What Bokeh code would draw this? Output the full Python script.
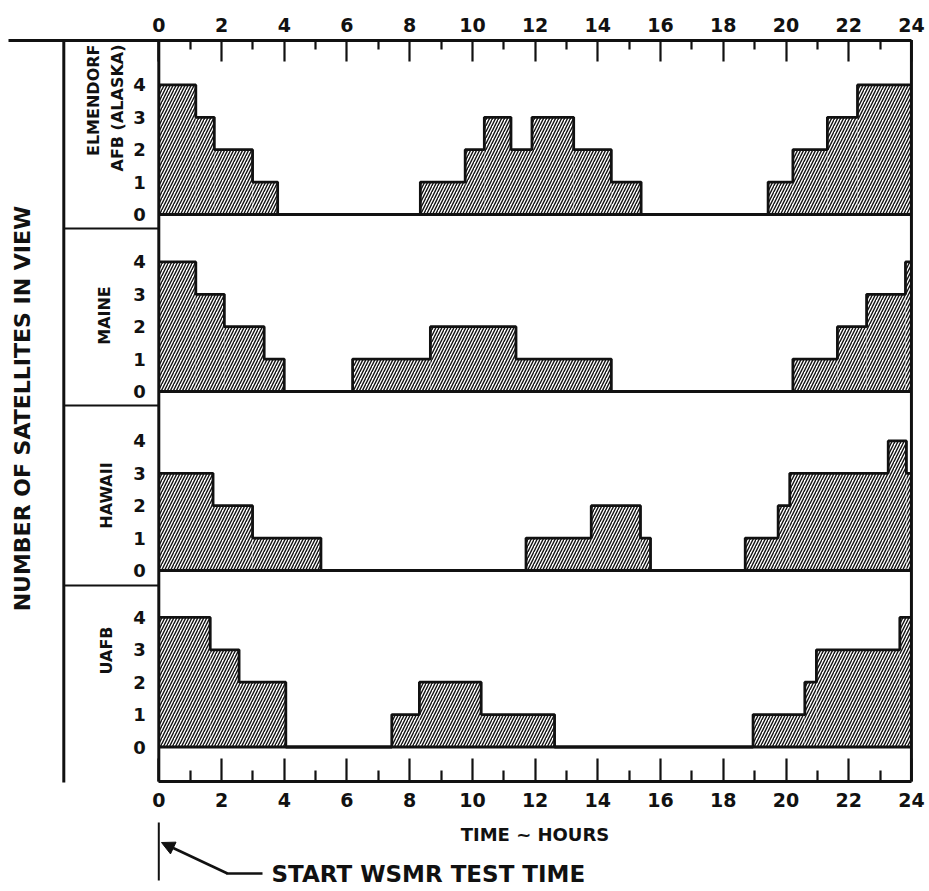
import math
from bokeh.plotting import figure
from bokeh.models import Range1d, LinearAxis, FixedTicker, Arrow, NormalHead, ColumnDataSource
from bokeh.embed import file_html
from bokeh.resources import INLINE
from bokeh.core.properties import value

# ---------------- data ----------------
hour_major = [0, 2, 4, 6, 8, 10, 12, 14, 16, 18, 20, 22, 24]
hour_minor = [1, 3, 5, 7, 9, 11, 13, 15, 17, 19, 21, 23]
count_ticks = [0, 1, 2, 3, 4]

site_names = ["ELMENDORF\nAFB (ALASKA)", "MAINE", "HAWAII", "UAFB"]

# step change times (hours) and number of satellites in view between them
elmendorf_t = [0, 1.18, 1.77, 2.99, 3.79, 8.34, 9.77, 10.38, 11.23, 11.9, 13.23, 14.43, 15.38, 19.43, 20.22, 21.32, 22.28, 24]
elmendorf_n = [4, 3, 2, 1, 0, 1, 2, 3, 2, 3, 2, 1, 0, 1, 2, 3, 4]

maine_t = [0, 1.18, 2.09, 3.36, 4.0, 6.18, 8.66, 11.39, 14.43, 20.22, 21.64, 22.57, 23.81, 24]
maine_n = [4, 3, 2, 1, 0, 1, 2, 1, 0, 1, 2, 3, 4]

hawaii_t = [0, 1.73, 2.99, 5.17, 11.71, 13.79, 15.36, 15.68, 18.70, 19.75, 20.12, 23.26, 23.84, 24]
hawaii_n = [3, 2, 1, 0, 1, 2, 1, 0, 1, 2, 3, 4, 3]

uafb_t = [0, 1.64, 2.56, 4.05, 7.43, 8.31, 10.28, 12.62, 18.95, 20.6, 20.97, 23.63, 24]
uafb_n = [4, 3, 2, 0, 1, 2, 1, 0, 1, 2, 3, 4]

series = [(elmendorf_t, elmendorf_n), (maine_t, maine_n), (hawaii_t, hawaii_n), (uafb_t, uafb_n)]

# ---------------- layout constants (page pixels) ----------------
W, H = 927, 889
PL, PT = 0, 0
X0, PXH = 158.3, 31.36          # pixel of hour 0, pixels per hour
BASES = [214, 391, 570, 746.5]  # pixel row of count 0 in each panel
UNIT = 32.4                     # pixels per satellite
TOP_Y, BOT_Y = 39.5, 781
COL_X = 63.3
SEP_Y = [228, 405, 585]
FONT = "DejaVu Sans"

def px2h(px):
    return (px - X0) / PXH

p = figure(width=W, height=H, output_backend="svg", toolbar_location=None,
           x_range=Range1d(px2h(PL), px2h(PL + W)), y_range=Range1d(PT + H, PT),
           x_axis_type=None, y_axis_type=None, min_border=0)
p.outline_line_color = None
p.background_fill_color = "white"
p.extra_x_ranges = {"px": Range1d(PL, PL + W)}
for k, b in enumerate(BASES):
    p.extra_y_ranges["s%d" % k] = Range1d(-(PT + H - b) / UNIT, (b - PT) / UNIT)

LW = 2.8
ink = "#111111"

# ---------------- hatched step areas ----------------
for k, (t, n) in enumerate(series):
    rn = "s%d" % k
    src = ColumnDataSource(dict(left=t[:-1], right=t[1:], top=n, bottom=[0] * len(n)))
    p.quad(left="left", right="right", top="top", bottom="bottom", source=src, y_range_name=rn,
           fill_color="white", line_color=None, hatch_pattern="/", hatch_color=ink,
           hatch_scale=6, hatch_weight=1.4)
    p.step(x=t, y=n + [n[-1]], mode="after", y_range_name=rn, line_color=ink, line_width=LW)
    p.line(x=[hour_major[0], hour_major[-1]], y=[0, 0], y_range_name=rn, line_color=ink, line_width=LW)
    ax = LinearAxis(y_range_name=rn, fixed_location=0, ticker=FixedTicker(ticks=count_ticks),
                    bounds=(0, 4), axis_line_color=None, major_tick_line_color=None,
                    minor_tick_line_color=None, major_label_standoff=7,
                    major_label_text_font=FONT, major_label_text_font_style="bold",
                    major_label_text_font_size="18px", major_label_text_color=ink)
    p.add_layout(ax, "left")

# ---------------- frame lines ----------------
p.line(x=[0, 0], y=[TOP_Y, BOT_Y], line_color=ink, line_width=3)
p.line(x=[24, 24], y=[TOP_Y, BOT_Y], line_color=ink, line_width=3)
p.line(x=[COL_X, COL_X], y=[TOP_Y, BOT_Y + 1], x_range_name="px", line_color=ink, line_width=3)
for sy in SEP_Y:
    p.line(x=[COL_X, X0], y=[sy, sy], x_range_name="px", line_color=ink, line_width=2)

# ---------------- hour axes ----------------
def hour_axis(loc, tin, tmin, bounds, standoff):
    return LinearAxis(fixed_location=loc, bounds=bounds,
                      ticker=FixedTicker(ticks=hour_major, minor_ticks=hour_minor),
                      axis_line_color=ink, axis_line_width=3,
                      major_tick_in=tin, major_tick_out=0, minor_tick_in=tmin, minor_tick_out=0,
                      major_tick_line_width=2.2, minor_tick_line_width=2.2,
                      major_tick_line_color=ink, minor_tick_line_color=ink,
                      major_label_standoff=standoff, major_label_text_font=FONT,
                      major_label_text_font_style="bold", major_label_text_font_size="19px",
                      major_label_text_color=ink)

top_ax = hour_axis(TOP_Y, 21, 9, (px2h(PL + 8), 24), 8)
p.add_layout(top_ax, "above")
bot_ax = hour_axis(BOT_Y, 23, 11, (0, 24), 11)
bot_ax.axis_label = "TIME ~ HOURS"
bot_ax.axis_label_text_font = FONT
bot_ax.axis_label_text_font_style = "bold"
bot_ax.axis_label_text_font_size = "18px"
bot_ax.axis_label_standoff = 14
bot_ax.axis_label_text_color = ink
p.add_layout(bot_ax, "below")

# ---------------- texts ----------------
p.text(x=[22], y=[408], text=["NUMBER OF SATELLITES IN VIEW"], x_range_name="px",
       angle=math.pi / 2, text_align="center", text_baseline="middle",
       text_font=value(FONT), text_font_size="22px", text_font_style="bold", text_color=ink)

label_x = [105, 104, 106, 106]
label_y = [44, 315, 495, 650]
label_align = ["right", "center", "center", "center"]
for i, name in enumerate(site_names):
    p.text(x=[label_x[i]], y=[label_y[i]], text=[name], x_range_name="px",
           angle=math.pi / 2, text_align=label_align[i], text_baseline="middle",
           text_font=value(FONT), text_font_size="16px", text_font_style="bold",
           text_color=ink, text_line_height=1.25)

# start marker
p.line(x=[0, 0], y=[822, 880], line_color=ink, line_width=2)
p.add_layout(Arrow(x_start=227, y_start=873, x_end=161, y_end=842, x_range_name="px",
                   line_color=ink, line_width=2.5,
                   end=NormalHead(size=13, fill_color=ink, line_color=ink)))
p.line(x=[226, 262], y=[873, 873], x_range_name="px", line_color=ink, line_width=2.5)
p.text(x=[271], y=[873], text=["START WSMR TEST TIME"], x_range_name="px",
       text_align="left", text_baseline="middle", text_font=value(FONT),
       text_font_size="23px", text_font_style="bold", text_color=ink)

open("out.html", "w").write(file_html(p, INLINE))
